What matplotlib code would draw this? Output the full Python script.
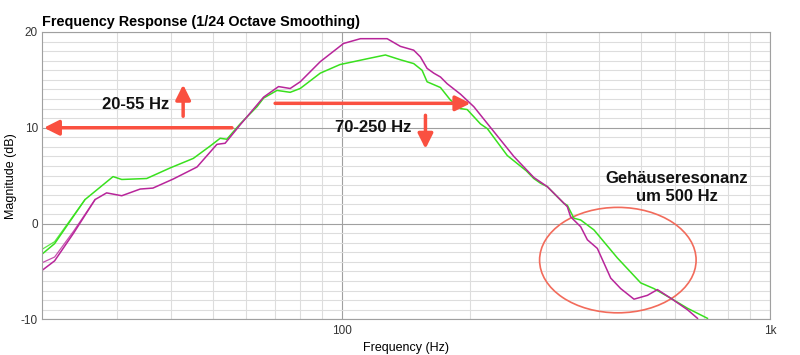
import numpy as np
import matplotlib
matplotlib.use("Agg")
import matplotlib.pyplot as plt
from matplotlib.patches import Ellipse
from matplotlib.ticker import FixedLocator, NullFormatter

plt.rcParams['font.family'] = ['Liberation Sans', 'DejaVu Sans']
plt.rcParams['axes.unicode_minus'] = False

# values (Hz, dB)
green_f = [20, 21.4, 25.2, 29.3, 30.7, 35.1, 39.8, 45.1, 49.4, 52.1, 54.0, 58.0,
           63.5, 65.8, 70.7, 75.9, 80.1, 89.2, 99.2, 106.7, 114.7, 126.6, 137.2,
           147.4, 154.2, 158.4, 164.2, 170.2, 179.5, 189.6, 196.5, 211.0, 219.0,
           243.7, 270.0, 281.0, 291.5, 302.2, 330.4, 336.5, 348.7, 361.5, 388.3,
           440.5, 499.2, 536.2, 586.6, 641.8, 714.6]
green_db = [-3.2, -2.1, 2.5, 4.9, 4.6, 4.7, 5.8, 6.8, 8.1, 8.9, 8.8, 10.4,
            12.2, 13.1, 13.9, 13.7, 14.1, 15.7, 16.6, 16.9, 17.2, 17.6, 17.1,
            16.7, 16.0, 14.8, 14.5, 14.2, 12.9, 12.0, 11.9, 10.4, 9.9,
            7.1, 5.5, 4.7, 4.2, 3.85, 2.1, 1.9, 0.55, 0.37, -0.67,
            -3.6, -6.2, -6.8, -7.8, -8.85, -9.9]

magenta_f = [20, 21.4, 23.7, 26.6, 28.3, 30.7, 33.9, 36.3, 40.5, 46.0, 51.2, 53.5,
             58.0, 65.8, 71.3, 75.9, 80.1, 89.2, 101.1, 110.7, 127.8, 137.2, 147.4,
             152.8, 158.4, 164.2, 170.2, 176.4, 189.6, 203.6, 226.7, 252.5, 281.2,
             302.2, 336.5, 342.5, 361.5, 374.8, 395.4, 424.9, 448.4, 481.5, 517.5,
             546.1, 586.6, 641.8, 677.3]
magenta_db = [-4.9, -3.9, -1.0, 2.5, 3.2, 2.9, 3.6, 3.7, 4.65, 5.9, 8.27, 8.38,
              10.3, 13.2, 14.3, 14.1, 14.8, 16.9, 18.8, 19.3, 19.3, 18.5, 18.1,
              17.4, 16.2, 15.7, 15.3, 14.6, 13.5, 12.2, 9.6, 7.0, 4.8,
              3.85, 1.76, 0.7, -0.33, -1.7, -2.6, -5.7, -6.8, -7.9, -7.5,
              -6.9, -7.8, -9.0, -9.9]

# second (other channel) traces, only visible at the low end
green_alt_f = [20, 21.4, 25.2]
green_alt_db = [-2.7, -1.9, 2.5]
magenta_alt_f = [20, 21.4, 23.7, 26.6]
magenta_alt_db = [-4.1, -3.5, -0.8, 2.5]

GREEN = '#39e01e'
MAGENTA = '#b8259a'
RED = '#fa5040'

fig = plt.figure(figsize=(8, 3.55), dpi=100)
ax = fig.add_axes([0.0525, 0.1006, 0.91, 0.8093])

ax.set_xscale('log')
ax.set_xlim(20, 1000)
ax.set_ylim(-10, 20)

# grid
ax.xaxis.set_major_locator(FixedLocator([100, 1000]))
ax.xaxis.set_minor_locator(FixedLocator([30, 40, 50, 60, 70, 80, 90,
                                         200, 300, 400, 500, 600, 700, 800, 900]))
ax.xaxis.set_minor_formatter(NullFormatter())
ax.set_xticklabels(['100', '1k'])
ax.set_yticks([-10, 0, 10, 20])
ax.set_yticks(np.arange(-10, 21, 1), minor=True)
ax.grid(True, which='minor', color='#dddddd', lw=0.8)
ax.grid(True, which='major', color='#a0a0a0', lw=0.8)
ax.set_axisbelow(True)
ax.tick_params(which='both', length=0, labelsize=8.5, colors='#333333', pad=4)
ax.tick_params(axis='y', pad=3)
for s in ax.spines.values():
    s.set_color('#a0a0a0')
    s.set_linewidth(0.8)

ax.plot(green_alt_f, green_alt_db, color=GREEN, lw=0.9, alpha=0.8)
ax.plot(magenta_alt_f, magenta_alt_db, color=MAGENTA, lw=0.9, alpha=0.8)
ax.plot(green_f, green_db, color=GREEN, lw=1.1)
ax.plot(magenta_f, magenta_db, color=MAGENTA, lw=1.1)

ax.set_title('Frequency Response (1/24 Octave Smoothing)', loc='left',
             fontsize=10.4, fontweight='bold', pad=4)
ax.set_xlabel('Frequency (Hz)', fontsize=9)
ax.set_ylabel('Magnitude (dB)', fontsize=9, labelpad=3)

# annotations
arrow = dict(arrowstyle='-|>,head_length=0.9,head_width=0.45', color=RED,
             lw=2.5, shrinkA=0, shrinkB=0)
ax.annotate('', xy=(20.2, 10), xytext=(55.5, 10), arrowprops=arrow)
ax.annotate('', xy=(42.7, 14.5), xytext=(42.7, 11.2), arrowprops=arrow)
ax.annotate('', xy=(200, 12.55), xytext=(70, 12.55), arrowprops=arrow)
ax.annotate('', xy=(157, 7.8), xytext=(157, 11.3), arrowprops=arrow)

txt = dict(fontsize=12, fontweight='bold', ha='center', va='center', color='#111111')
ax.text(33.0, 12.4, '20-55 Hz', **txt)
ax.text(118.7, 10.0, '70-250 Hz', **txt)
ax.text(606, 4.7, 'Gehäuseresonanz', **txt)
ax.text(606, 2.8, 'um 500 Hz', **txt)

ax.add_patch(Ellipse((0.791, 0.206), 0.215, 0.367, transform=ax.transAxes,
                     fill=False, edgecolor='#f26b5b', lw=1.2))

fig.savefig('out.png', dpi=100)
